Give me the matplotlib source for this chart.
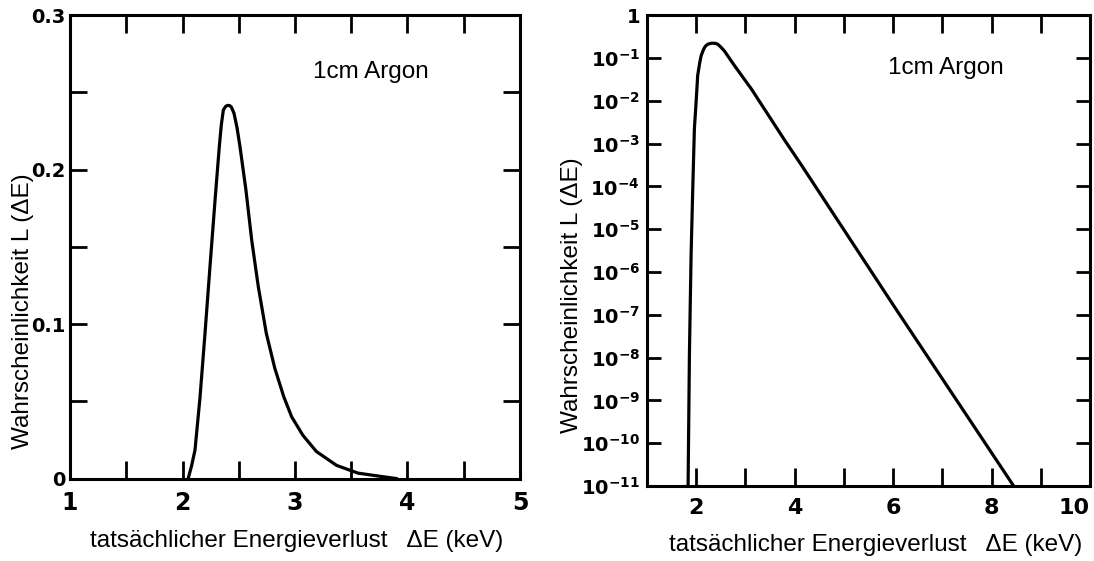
import numpy as np
import matplotlib
matplotlib.use("Agg")
import matplotlib.pyplot as plt
import matplotlib.font_manager as fm
from matplotlib.ticker import FixedLocator, FixedFormatter, MultipleLocator

# linear panel, curve
lin_x = [2.05, 2.08, 2.111, 2.156, 2.2, 2.244, 2.289, 2.327, 2.345, 2.363, 2.381,
         2.395, 2.407, 2.42, 2.434, 2.446, 2.458, 2.485, 2.511, 2.564, 2.615, 2.674,
         2.745, 2.82, 2.90, 2.97, 3.07, 3.19, 3.37, 3.56, 3.78, 3.90]
lin_y = [0.0, 0.008, 0.0184, 0.0529, 0.094, 0.137, 0.180, 0.2148, 0.2290, 0.2385, 0.2407,
         0.2414, 0.2416, 0.2414, 0.2405, 0.2385, 0.2364, 0.2270, 0.2148, 0.1867, 0.1544, 0.1241,
         0.094, 0.0715, 0.053, 0.040, 0.028, 0.0175, 0.0085, 0.0035, 0.0012, 0.0]

# log panel, curve (log10 of L)
log_x = [1.835, 1.862, 1.896, 1.93, 1.963, 1.998, 2.03, 2.07, 2.10, 2.135, 2.167,
         2.20, 2.236, 2.29, 2.338, 2.39, 2.44, 2.507, 2.574, 2.778, 3.118, 3.796,
         4.136, 6.037, 8.45]
log_e = [-11.0, -7.92, -5.60, -4.05, -2.65, -2.03, -1.41, -1.12, -0.95, -0.84, -0.76,
         -0.71, -0.68, -0.66, -0.655, -0.66, -0.68, -0.754, -0.84, -1.18, -1.72, -2.92,
         -3.50, -6.83, -11.0]

lin_yticks = [0, 0.1, 0.2, 0.3]
lin_ylabels = ["0", "0.1", "0.2", "0.3"]
lin_xticks = [1, 2, 3, 4, 5]
log_xticks = [2, 4, 6, 8, 10]
log_exps = list(range(0, -12, -1))

names = {f.name for f in fm.fontManager.ttflist}
tick_family = "Liberation Sans Narrow" if "Liberation Sans Narrow" in names else "DejaVu Sans"

plt.rcParams["font.family"] = ["Liberation Sans", "DejaVu Sans"]
plt.rcParams["mathtext.fontset"] = "custom"
plt.rcParams["mathtext.rm"] = tick_family + ":bold"
plt.rcParams["mathtext.it"] = tick_family + ":bold"
plt.rcParams["mathtext.bf"] = tick_family + ":bold"

fig = plt.figure(figsize=(10.94, 5.61), dpi=100)

lw_spine = 2.2
lw_curve = 2.3
label_size = 17.5
tick_font = dict(family=tick_family, weight="bold")


def frame(ax):
    for s in ax.spines.values():
        s.set_linewidth(lw_spine)
    ax.tick_params(which="both", direction="in", top=True, right=True,
                   width=2.0, color="black")


# ---- linear panel ----
ax1 = fig.add_axes([0.064, 0.147, 0.4113, 0.826])
ax1.plot(lin_x, lin_y, color="black", lw=lw_curve, solid_joinstyle="round")
ax1.set_xlim(1, 5)
ax1.set_ylim(0, 0.3)
frame(ax1)
ax1.set_xticks(lin_xticks)
ax1.xaxis.set_minor_locator(MultipleLocator(0.5))
ax1.set_yticks(lin_yticks)
ax1.set_yticklabels(lin_ylabels)
ax1.yaxis.set_minor_locator(MultipleLocator(0.05))
ax1.tick_params(axis="x", which="both", length=13, pad=9)
ax1.tick_params(axis="y", which="both", length=12, pad=3)
for t in ax1.get_xticklabels():
    t.set(fontsize=17, **tick_font)
for t in ax1.get_yticklabels():
    t.set(fontsize=14, **tick_font)
ax1.set_xlabel("tatsächlicher Energieverlust   ΔE (keV)", fontsize=label_size)
ax1.set_ylabel("Wahrscheinlichkeit L (ΔE)", fontsize=label_size)
ax1.xaxis.set_label_coords(0.503, -0.110)
ax1.yaxis.set_label_coords(-0.080, 0.361)
ax1.text(0.541, 0.878, "1cm Argon", transform=ax1.transAxes,
         fontsize=label_size, va="center", ha="left")

# ---- log panel ----
ax2 = fig.add_axes([0.5914, 0.1337, 0.4049, 0.8393])
ax2.plot(log_x, 10.0 ** np.array(log_e), color="black", lw=lw_curve,
         solid_joinstyle="round")
ax2.set_yscale("log")
ax2.set_xlim(1, 10)
ax2.set_ylim(1e-11, 1.0)
frame(ax2)
ax2.set_xticks(log_xticks)
ax2.xaxis.set_minor_locator(MultipleLocator(1))
ytick_vals = [10.0 ** e for e in log_exps]
ytick_txt = ["1"] + [r"$\mathrm{10^{%d}}$" % e for e in log_exps[1:]]
ax2.yaxis.set_major_locator(FixedLocator(ytick_vals))
ax2.yaxis.set_major_formatter(FixedFormatter(ytick_txt))
ax2.yaxis.set_minor_locator(FixedLocator([]))
ax2.tick_params(axis="x", which="both", length=13, pad=9)
ax2.tick_params(axis="y", which="both", length=10, pad=5)
for t in ax2.get_xticklabels():
    t.set(fontsize=16, **tick_font)
ax2.get_xticklabels()[-1].set_ha("right")
for t in ax2.get_yticklabels():
    t.set(fontsize=14, **tick_font)
ax2.set_xlabel("tatsächlicher Energieverlust   ΔE (keV)", fontsize=label_size)
ax2.set_ylabel("Wahrscheinlichkeit L (ΔE)", fontsize=label_size)
ax2.xaxis.set_label_coords(0.517, -0.102)
ax2.yaxis.set_label_coords(-0.144, 0.405)
ax2.text(0.543, 0.887, "1cm Argon", transform=ax2.transAxes,
         fontsize=label_size, va="center", ha="left")

fig.savefig("out.png", dpi=100)
